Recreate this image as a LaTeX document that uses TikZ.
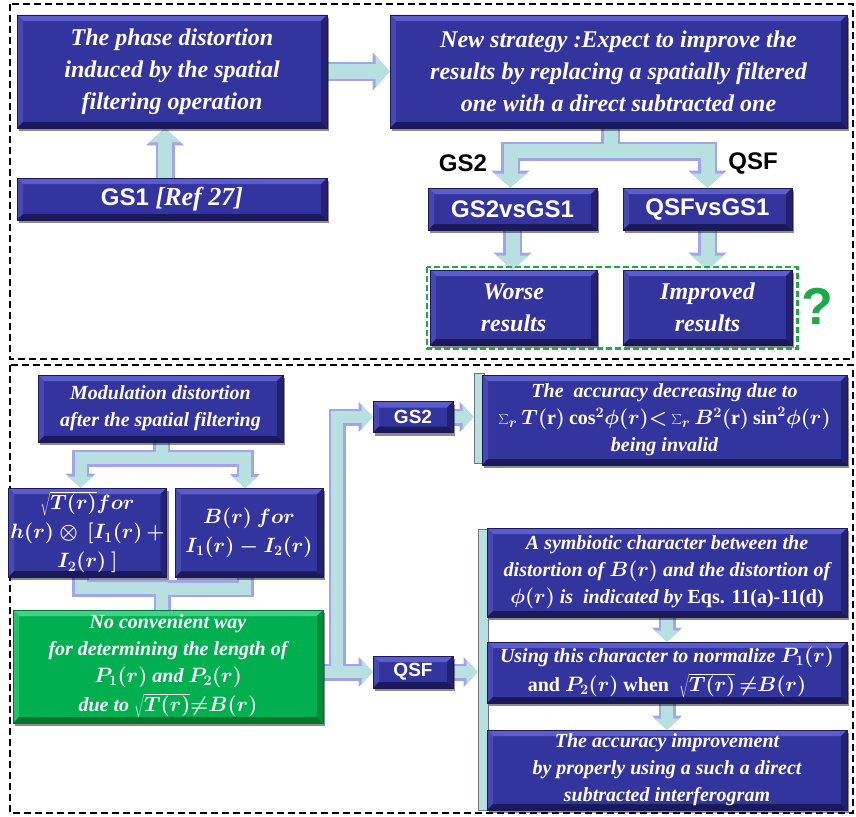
\documentclass[tikz,border=0pt]{standalone}
\usepackage{fontspec}
\setmainfont{Liberation Serif}
\setsansfont{Liberation Sans}
\newfontfamily\tnr{Liberation Serif}
\usetikzlibrary{arrows.meta,shadows,calc,backgrounds}
\definecolor{boxc}{HTML}{34349E}
\definecolor{bevT}{HTML}{5C5CCA}
\definecolor{bevL}{HTML}{4848B2}
\definecolor{bevR}{HTML}{222270}
\definecolor{bevB}{HTML}{1A1A5A}
\definecolor{grc}{HTML}{00B050}
\definecolor{grT}{HTML}{45D088}
\definecolor{grL}{HTML}{22C06A}
\definecolor{grR}{HTML}{008A3A}
\definecolor{grB}{HTML}{007530}
\definecolor{arrowc}{HTML}{B8E0E0}
\definecolor{glowc}{HTML}{A4A4EA}
\definecolor{qgreen}{HTML}{1DA84A}
\tikzset{
  bevel/.style n args={4}{path picture={
    \path (path picture bounding box.north west) coordinate (pNW)
          (path picture bounding box.north east) coordinate (pNE)
          (path picture bounding box.south west) coordinate (pSW)
          (path picture bounding box.south east) coordinate (pSE);
    \fill[#1] (pNW) -- (pNE) -- ++(-6pt,-6pt) -- ($(pNW)+(6pt,-6pt)$) -- cycle;
    \fill[#2] (pNW) -- (pSW) -- ++(6pt,6pt) -- ($(pNW)+(6pt,-6pt)$) -- cycle;
    \fill[#3] (pNE) -- (pSE) -- ++(-6pt,6pt) -- ($(pNE)+(-6pt,-6pt)$) -- cycle;
    \fill[#4] (pSW) -- (pSE) -- ++(-6pt,6pt) -- ($(pSW)+(6pt,6pt)$) -- cycle;
  }},
  box/.style={rectangle, fill=boxc, draw=bevB, line width=0.6pt, text=white,
    align=center, inner sep=2pt,
    drop shadow={shadow xshift=2pt, shadow yshift=-3pt, opacity=0.45, fill=black},
    bevel={bevT}{bevL}{bevR}{bevB}},
  greenbox/.style={box, fill=grc, draw=grB, bevel={grT}{grL}{grR}{grB}},
  bigtxt/.style={font=\tnr\bfseries\itshape\boldmath\fontsize{24}{32}\selectfont},
  smalltxt/.style={font=\tnr\bfseries\itshape\boldmath\fontsize{20}{27}\selectfont},
  midtxt/.style={font=\tnr\bfseries\itshape\boldmath\fontsize{20}{29}\selectfont},
  labsf/.style={font=\sffamily\bfseries\fontsize{24}{28}\selectfont},
  labsfs/.style={font=\sffamily\bfseries\fontsize{19}{22}\selectfont},
  bracketbox/.style={rectangle, fill=arrowc, draw=black!55, line width=0.8pt, inner sep=0pt},
  frame/.style={draw=black, line width=2.2pt, dash pattern=on 7pt off 4pt},
  glowA/.style={draw=glowc, line width=19pt, -{Triangle[width=38pt,length=17pt,line width=0pt]}},
  fillA/.style={draw=arrowc, line width=14pt, -{Triangle[width=32pt,length=14pt,line width=0pt]}},
  glowB/.style={draw=glowc, line width=17pt, -{Triangle[width=30pt,length=14pt,line width=0pt]}},
  fillB/.style={draw=arrowc, line width=12pt, -{Triangle[width=25pt,length=11pt,line width=0pt]}},
}
\newcommand\allconns{%
  \draw[fatA] (phase.east) -- (news.west);
  \draw[fatA] ($(gs1.north)+(-7,0)$) -- ($(phase.south)+(-7,0)$);
  \draw[fatA] ($(news.south)+(-8,0)$) -- ++(0,23) -| ($(gs2v.north)+(-2,0)$);
  \draw[fatA] ($(news.south)+(-8,0)$) -- ++(0,23) -| (qsfv.north);
  \draw[fatA] (gs2v.south) -- (gs2v.south |- worse.north);
  \draw[fatA] (qsfv.south) -- (qsfv.south |- impr.north);
  \draw[fatB] ($(mod.south)+(1,0)$) -- ++(0,16) -| ($(sq.north)+(-7,0)$);
  \draw[fatB] ($(mod.south)+(1,0)$) -- ++(0,16) -| ($(bb.north)+(-4,0)$);
  \draw[fatB,-] ($(sq.south)+(-7,0)$) -- ++(0,11) -| ($(green.north)+(-6,0)$);
  \draw[fatB,-] ($(bb.south)+(-4,0)$) -- ++(0,11) -| ($(green.north)+(-6,0)$);
  \draw[fatB] (green.east |- qsfb.west) -- (qsfb.west);
  \draw[fatB] (jn) |- (gs2b.west);
  \draw[fatB] (gs2b.east) -- (br1.west |- gs2b.east);
  \draw[fatB] (qsfb.east) -- (br2.west |- qsfb.east);
  \draw[fatB] (symb.south) -- (using.north);
  \draw[fatB] (using.south) -- (impv.north);
}
\begin{document}
\begin{tikzpicture}[x=1pt,y=-1pt]
\useasboundingbox (0,0) rectangle (856,816);
\draw[frame] (10,4) rectangle (853,359);
\draw[frame] (10,365) rectangle (853,813);

% brackets
\node[bracketbox, minimum width=10pt, minimum height=90pt] (br1) at (479,418) {};
\node[bracketbox, minimum width=10pt, minimum height=281pt] (br2) at (483,669.5) {};

% top part
\node[box,bigtxt,minimum width=310pt,minimum height=113pt] (phase) at (172,71.5)
  {The phase distortion\\induced by the spatial\\filtering operation};
\node[box,labsf,minimum width=310pt,minimum height=42pt] (gs1) at (172,199)
  {GS1 {\tnr\itshape\fontsize{26}{28}\selectfont [Ref 27]}};
\node[box,bigtxt,minimum width=457pt,minimum height=113pt] (news) at (618.5,71.5)
  {New strategy :Expect to improve the\\results by replacing a spatially filtered\\one with a direct subtracted one};
\node[box,labsf,minimum width=169pt,minimum height=42pt] (gs2v) at (512.5,209) {GS2vsGS1};
\node[box,labsf,minimum width=169pt,minimum height=42pt] (qsfv) at (707.5,209) {QSFvsGS1};
\node[box,bigtxt,minimum width=167pt,minimum height=75pt] (worse) at (513.5,307.5) {Worse\\results};
\node[box,bigtxt,minimum width=169pt,minimum height=75pt] (impr) at (707.5,307.5) {Improved\\results};
\node[labsf,text=black] (lgs2) at (463,163) {GS2};
\node[labsf,text=black] (lqsf) at (753,163) {QSF};
\draw[qgreen, line width=2.4pt, dash pattern=on 6pt off 3pt]
  ($(worse.north west)+(-3,-3)$) rectangle ($(impr.south east)+(5,3)$);
\node[font=\sffamily\bfseries\fontsize{52}{52}\selectfont, text=qgreen] (qm) at (817,306) {?};

% bottom part
\node[box,smalltxt,minimum width=245pt,minimum height=67pt] (mod) at (160.5,408.5)
  {Modulation distortion\\after the spatial filtering};
\node[box,midtxt,minimum width=149pt,minimum height=89pt] (sq) at (87.5,532.5)
  {$\sqrt{T(r)}for$\\$h(r)\otimes\,[I_1(r)\,+$\\$I_2(r)\ ]$};
\node[box,midtxt,minimum width=148pt,minimum height=89pt,anchor=north] (bb) at (249,488)
  {$B(r)\ for$\\$I_1(r)-I_2(r)$};
\node[greenbox,smalltxt,minimum width=310pt,minimum height=113pt] (green) at (168,666.5)
  {No convenient way\\for determining the length of\\$P_1(r)$ and $P_2(r)$\\[2pt]due to $\sqrt{T(r)}{\neq}B(r)$};
\node[box,labsfs,minimum width=80pt,minimum height=31pt] (gs2b) at (413,417) {GS2};
\node[box,labsfs,minimum width=80pt,minimum height=32pt] (qsfb) at (413,672) {QSF};
\coordinate (jn) at ($(green.east |- qsfb.west)+(14,0)$);
\node[box,smalltxt,minimum width=365pt,minimum height=90pt] (acc1) at (664.5,420)
  {The\ \ accuracy decreasing due to\\
   {\upshape$\sum_r T(\mathrm{r})\cos^2\!\phi(r){<}\sum_r B^2(\mathrm{r})\sin^2\!\phi(r)$}\\
   being invalid};
\node[box,smalltxt,minimum width=360pt,minimum height=89pt] (symb) at (667,572.5)
  {A symbiotic character between the\\distortion of $B(r)$ and the distortion of\\
   $\phi(r)$ is\ \ indicated by {\upshape Eqs. 11(a)-11(d)}};
\node[box,smalltxt,minimum width=360pt,minimum height=61pt] (using) at (667,672.5)
  {Using this character to normalize $P_1(r)$\\[2pt]
   {\upshape and} $P_2(r)$ {\upshape when}\ \ $\sqrt{T(r)}\,{\neq}B(r)$};
\node[box,smalltxt,minimum width=360pt,minimum height=80pt] (impv) at (667,770)
  {The accuracy improvement\\by properly using a such a direct\\subtracted interferogram};

\begin{pgfonlayer}{background}
  \tikzset{fatA/.style={glowA}, fatB/.style={glowB}}
  \allconns
  \tikzset{fatA/.style={fillA}, fatB/.style={fillB}}
  \allconns
\end{pgfonlayer}
\end{tikzpicture}
\end{document}
